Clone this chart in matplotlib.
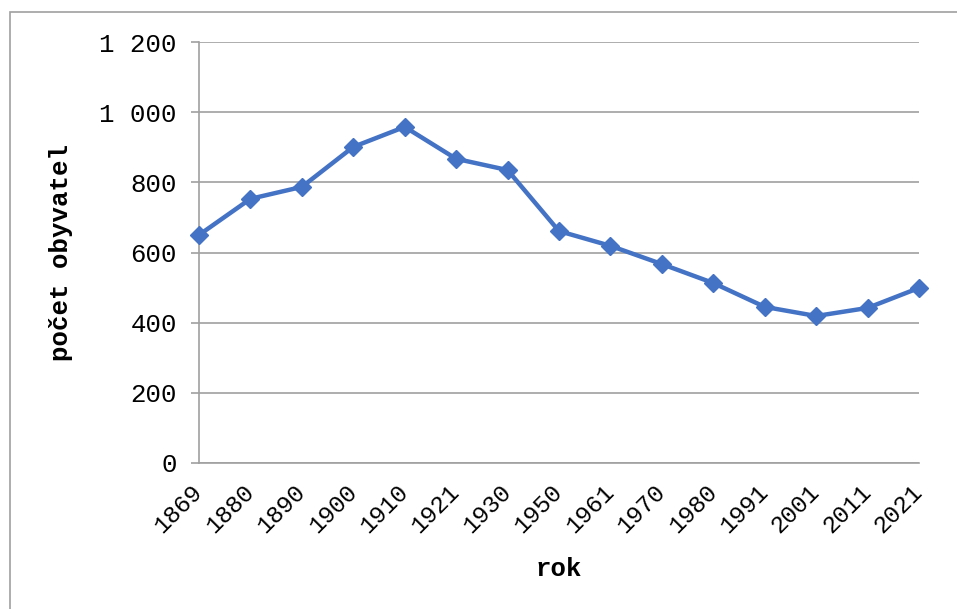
import matplotlib.pyplot as plt
from matplotlib.patches import Rectangle

years = ['1869', '1880', '1890', '1900', '1910', '1921', '1930', '1950',
         '1961', '1970', '1980', '1991', '2001', '2011', '2021']
population = [650, 753, 787, 901, 958, 867, 835, 661,
              619, 567, 513, 445, 419, 442, 499]
y_ticks = [0, 200, 400, 600, 800, 1000, 1200]
y_labels = ['0', '200', '400', '600', '800', '1 000', '1 200']

plt.rcParams['font.family'] = ['Liberation Mono', 'DejaVu Sans Mono']

W, H = 957, 609
fig = plt.figure(figsize=(W / 100, H / 100), dpi=100)
ax = fig.add_axes([199 / W, 1 - 463 / H, 720 / W, 421 / H])

x = list(range(len(years)))
ax.plot(x, population, color='#4472C4', lw=3.2, marker='D', ms=9.5,
        markeredgecolor='#4472C4', zorder=3, clip_on=False)

ax.set_xlim(0, len(years) - 1)
ax.set_ylim(0, 1200)
ax.set_yticks(y_ticks)
ax.set_yticklabels(y_labels)
ax.set_xticks(x)
ax.set_xticklabels(years, rotation=45, ha='right', va='center',
                   rotation_mode='anchor')
ax.grid(axis='y', color='#A0A0A0', lw=1.2)
ax.set_axisbelow(True)

for s in ['top', 'right']:
    ax.spines[s].set_visible(False)
ax.spines['left'].set_color('#A0A0A0')
ax.spines['left'].set_linewidth(1.2)
ax.spines['bottom'].set_color('#A0A0A0')
ax.spines['bottom'].set_linewidth(1.2)
ax.tick_params(axis='y', length=6, color='#A0A0A0', width=1.2, pad=10,
               labelsize=18.5)
ax.tick_params(axis='x', length=0, pad=18, labelsize=17.5)

ax.set_ylabel('počet obyvatel', fontsize=18.5, fontweight='bold', labelpad=19)
ax.set_xlabel('rok', fontsize=18.5, fontweight='bold', labelpad=14)

fig.patches.append(Rectangle((10 / W, -0.1), 1.2, 1 - 12 / H + 0.1,
                             transform=fig.transFigure, fill=False,
                             edgecolor='#A0A0A0', lw=1.2))

fig.savefig('out.png', dpi=100)
